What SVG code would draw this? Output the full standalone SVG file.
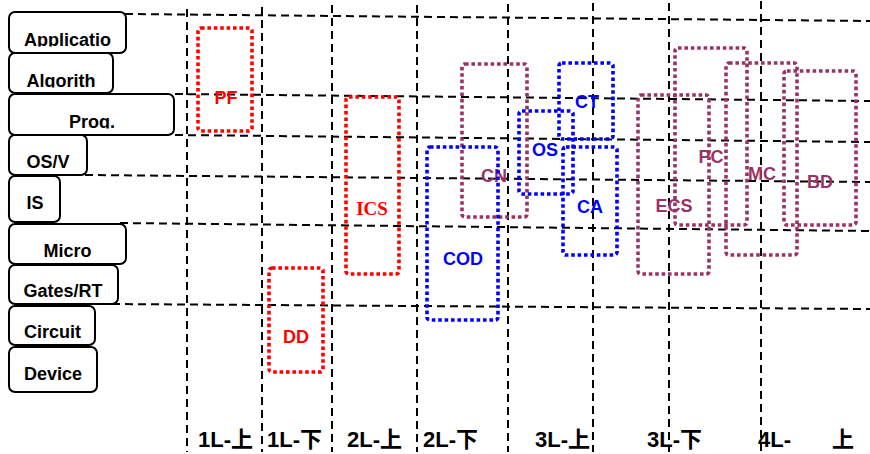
<svg xmlns="http://www.w3.org/2000/svg" width="870" height="454" viewBox="0 0 870 454">
<style>
.grid{stroke:#000;stroke-width:2;stroke-dasharray:8 5;fill:none}
.lay{fill:#fff;stroke:#000;stroke-width:2}
.lt{font-family:"Liberation Sans",Arial,sans-serif;font-weight:bold;font-size:18px;fill:#000;text-anchor:middle}
.dot{fill:none;stroke-width:3.6;stroke-dasharray:3.6 2.8}
.red{stroke:#FF0000}.blue{stroke:#0000FF}.pur{stroke:#993366}
.ct{font-family:"Liberation Sans",Arial,sans-serif;font-weight:bold;font-size:18px;text-anchor:middle}
.tr{fill:#FF0000}.tb{fill:#0000FF}.tp{fill:#993366}
.bt{font-family:"Liberation Sans","Noto Sans CJK SC",sans-serif;font-weight:bold;font-size:22px;fill:#000}
</style>
<defs>
<clipPath id="c1"><rect x="9" y="12" width="117" height="34.5"/></clipPath>
<clipPath id="c2"><rect x="9" y="53" width="104" height="34.5"/></clipPath>
<clipPath id="c3"><rect x="9" y="94" width="165" height="34.5"/></clipPath>
</defs>
<rect width="870" height="454" fill="#fff"/>
<g id="connectors">
<line class="grid" x1="125" y1="14" x2="870" y2="21"/>
<line class="grid" x1="175" y1="94" x2="870" y2="101"/>
<line class="grid" x1="175" y1="135" x2="870" y2="142"/>
<line class="grid" x1="85" y1="175" x2="870" y2="182"/>
<line class="grid" x1="120" y1="223" x2="870" y2="231"/>
<line class="grid" x1="112" y1="304" x2="870" y2="309"/>
<line class="grid" x1="187" y1="9" x2="187" y2="452"/>
<line class="grid" x1="262" y1="7" x2="262" y2="452"/>
<line class="grid" x1="332" y1="5" x2="332" y2="452"/>
<line class="grid" x1="417" y1="5" x2="417" y2="452"/>
<line class="grid" x1="508" y1="4" x2="508" y2="452"/>
<line class="grid" x1="593" y1="3" x2="593" y2="452"/>
<line class="grid" x1="669" y1="3" x2="669" y2="452"/>
<line class="grid" x1="761" y1="1" x2="761" y2="452"/>
</g>
<g id="layer-application"><rect class="lay" x="9" y="12" width="117" height="41" rx="6"/><text class="lt" x="67.5" y="46" clip-path="url(#c1)">Applicatio</text></g>
<g id="layer-algorithm"><rect class="lay" x="9" y="53" width="104" height="40" rx="6"/><text class="lt" x="61" y="87" clip-path="url(#c2)">Algorith</text></g>
<g id="layer-prog"><rect class="lay" x="9" y="94" width="165" height="41" rx="6"/><text class="lt" x="92" y="128" clip-path="url(#c3)">Prog.</text></g>
<g id="layer-osv"><rect class="lay" x="9" y="135" width="78" height="40" rx="6"/><text class="lt" x="48" y="168">OS/V</text></g>
<g id="layer-is"><rect class="lay" x="9" y="176" width="51" height="46" rx="6"/><text class="lt" x="35" y="209">IS</text></g>
<g id="layer-micro"><rect class="lay" x="9" y="224" width="117" height="40" rx="6"/><text class="lt" x="67.5" y="257">Micro</text></g>
<g id="layer-gates"><rect class="lay" x="9" y="265" width="109" height="39" rx="6"/><text class="lt" x="63" y="297">Gates/RT</text></g>
<g id="layer-circuit"><rect class="lay" x="9" y="306" width="86" height="39" rx="6"/><text class="lt" x="52.5" y="338">Circuit</text></g>
<g id="layer-device"><rect class="lay" x="9" y="347" width="88" height="45" rx="6"/><text class="lt" x="53" y="380">Device</text></g>

<g id="node-PF"><rect class="dot red" x="198" y="28" width="54" height="103" rx="3"/><text class="ct tr" x="226" y="104">PF</text></g>
<g id="node-ICS"><rect class="dot red" x="346" y="97" width="53" height="177" rx="3"/><text class="tr" x="372" y="215" font-family="'Liberation Serif','Times New Roman',serif" font-weight="bold" font-size="19" text-anchor="middle">ICS</text></g>
<g id="node-DD"><rect class="dot red" x="269" y="268" width="54" height="104" rx="3"/><text class="ct tr" x="296" y="343">DD</text></g>
<g id="node-CN"><rect class="dot pur" x="462" y="64" width="65" height="153" rx="3"/><text class="ct tp" x="494" y="182">CN</text></g>
<g id="node-COD"><rect class="dot blue" x="427" y="147" width="71" height="173" rx="3"/><text class="ct tb" x="463" y="265">COD</text></g>
<g id="node-OS"><rect class="dot blue" x="519" y="111" width="54" height="83" rx="3"/><text class="ct tb" x="545" y="156">OS</text></g>
<g id="node-CT"><rect class="dot blue" x="559" y="63" width="54" height="76" rx="3"/><text class="ct tb" x="587" y="108">CT</text></g>
<g id="node-CA"><rect class="dot blue" x="563" y="147" width="54" height="108" rx="3"/><text class="ct tb" x="590" y="213">CA</text></g>
<g id="node-ECS"><rect class="dot pur" x="638" y="95" width="71" height="179" rx="3"/><text class="ct tp" x="674" y="212">ECS</text></g>
<g id="node-PC"><rect class="dot pur" x="675" y="48" width="72" height="177" rx="3"/><text class="ct tp" x="711" y="163">PC</text></g>
<g id="node-MC"><rect class="dot pur" x="726" y="63" width="71" height="192" rx="3"/><text class="ct tp" x="762" y="180">MC</text></g>
<g id="node-BD"><rect class="dot pur" x="784" y="71" width="72" height="154" rx="3"/><text class="ct tp" x="820" y="188">BD</text></g>

<g id="axis-labels">
<text class="bt" x="198" y="447">1L-上</text>
<text class="bt" x="267" y="447">1L-下</text>
<text class="bt" x="347" y="447">2L-上</text>
<text class="bt" x="423" y="447">2L-下</text>
<text class="bt" x="535" y="447">3L-上</text>
<text class="bt" x="647" y="447">3L-下</text>
<text class="bt" x="758" y="447">4L-</text>
<text class="bt" x="832" y="447">上</text>
</g>
</svg>
